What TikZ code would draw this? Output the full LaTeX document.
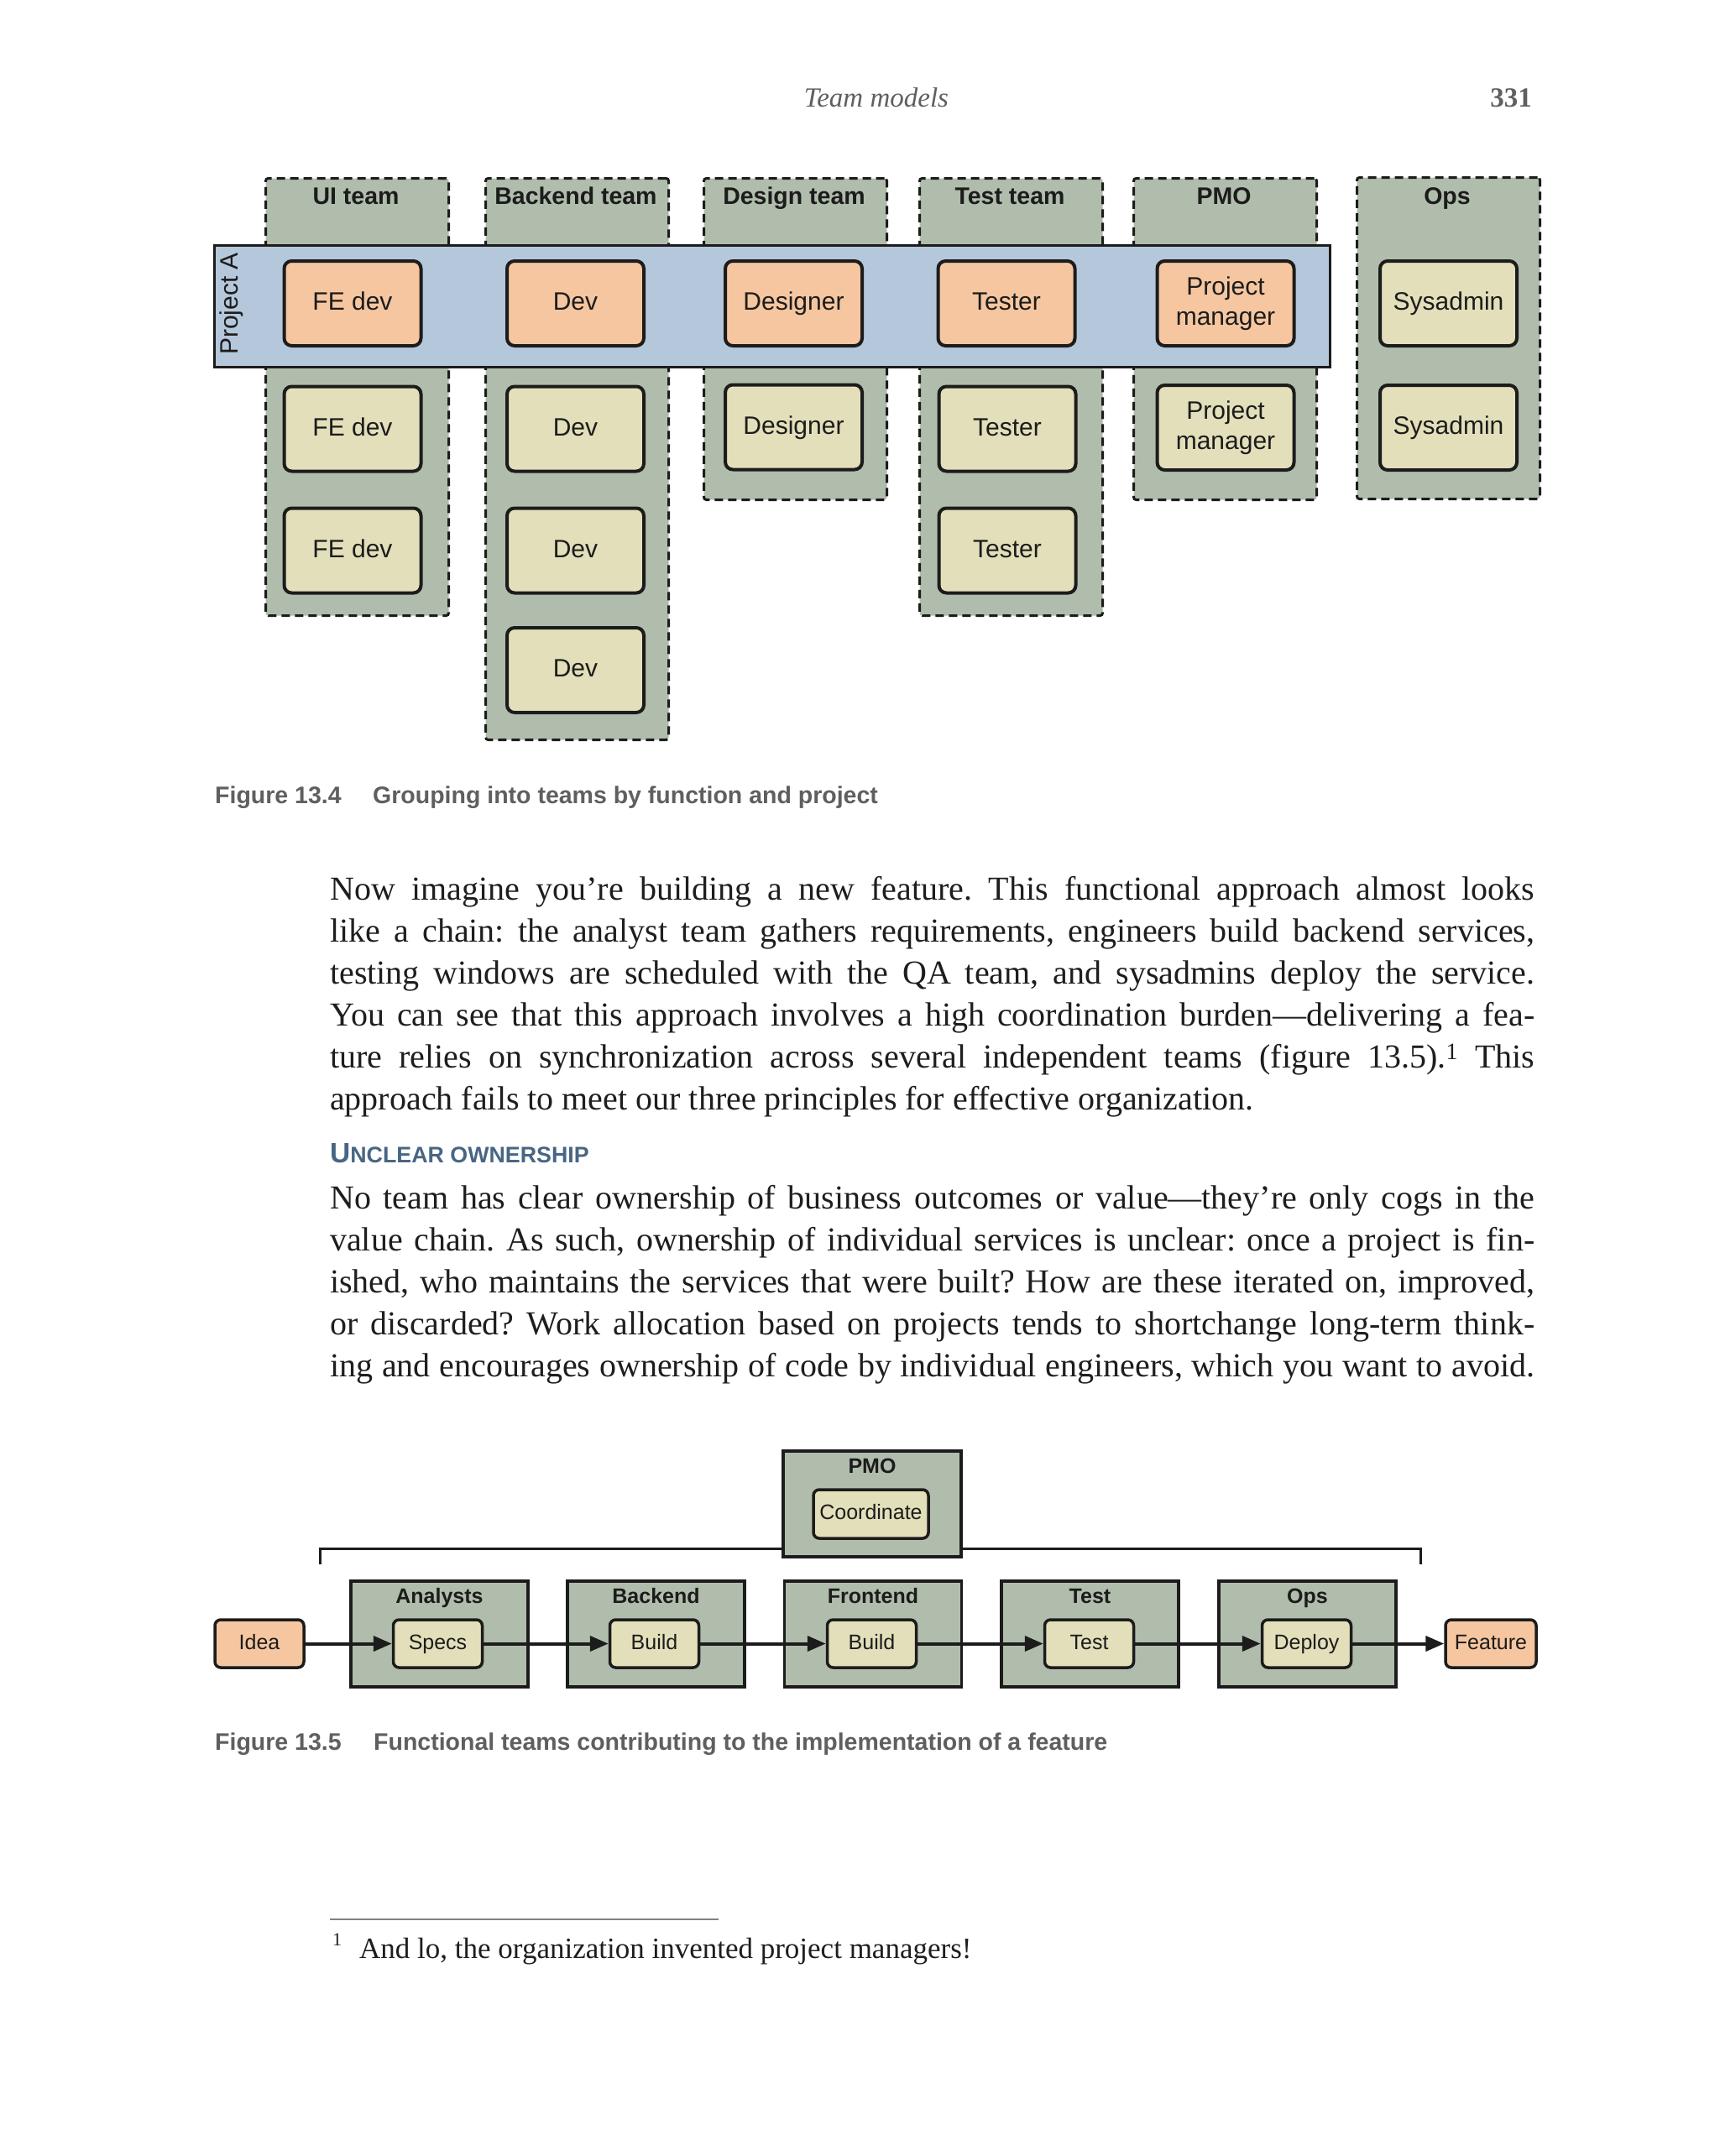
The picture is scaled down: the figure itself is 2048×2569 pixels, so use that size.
\documentclass[tikz,border=0pt]{standalone}
\usepackage{fontspec}
\setmainfont{Liberation Serif}
\newfontfamily\sans{Liberation Sans}
\usetikzlibrary{arrows.meta}
\definecolor{linec}{RGB}{28,28,28}
\definecolor{teamg}{RGB}{177,189,172}
\definecolor{bandb}{RGB}{181,199,219}
\definecolor{orangec}{RGB}{246,198,160}
\definecolor{creamc}{RGB}{227,223,186}
\definecolor{capgray}{RGB}{95,95,95}
\definecolor{headblue}{RGB}{72,102,132}
\definecolor{headgray}{RGB}{95,95,95}
\definecolor{bodyc}{RGB}{30,30,30}
\begin{document}
\frenchspacing
\begin{tikzpicture}[x=1pt,y=-1pt,
  teamcol/.style={draw=linec, fill=teamg, line width=3pt, dash pattern=on 10pt off 6pt, rounded corners=3pt, anchor=north west, inner sep=0pt, minimum width=218pt},
  teamlbl/.style={anchor=base, font=\sans\bfseries\fontsize{28.5}{32}\selectfont, text=linec},
  band/.style={draw=linec, fill=bandb, line width=3pt, anchor=north west, inner sep=0pt},
  boxbase/.style={draw=linec, line width=4pt, rounded corners=9pt, minimum width=163pt, minimum height=101pt, inner sep=0pt, font=\sans\fontsize{30}{36}\selectfont, align=center, text=linec},
  box/.style={boxbase, text height=22pt, text depth=6pt},
  team5/.style={draw=linec, fill=teamg, line width=3.5pt, minimum width=211pt, minimum height=126pt, inner sep=0pt},
  lbl5/.style={anchor=base, font=\sans\bfseries\fontsize{25}{28}\selectfont, text=linec},
  ibox/.style={draw=linec, line width=3.5pt, rounded corners=7pt, minimum height=57pt, minimum width=106pt, inner sep=0pt, font=\sans\fontsize{25}{28}\selectfont, text height=18pt, text depth=5pt, text=linec},
  arr/.style={draw=linec, line width=4pt, -{Triangle[length=22pt,width=18pt]}},
  body/.style={anchor=base west, inner sep=0pt, font=\fontsize{40}{50}\selectfont, text=bodyc},
  captxt/.style={anchor=base west, inner sep=0pt, font=\sans\bfseries\fontsize{28.5}{32}\selectfont, text=capgray}
]
\fill[white] (0,0) rectangle (2048,2569);
\useasboundingbox (0,0) rectangle (2048,2569);

% header
\node[anchor=base, inner sep=0pt, font=\itshape\fontsize{33}{36}\selectfont, text=headgray] (hdr) at (1044,128) {Team models};
\node[anchor=base east, inner sep=0pt, font=\bfseries\fontsize{33}{36}\selectfont, text=headgray] (pg) at (1825,128) {331};

% ===== Figure 13.4 =====
\node[teamcol, minimum height=521pt] (ui) at (315,211) {};
\node[teamcol, minimum height=669pt] (be) at (577,211) {};
\node[teamcol, minimum height=383pt] (de) at (837,211) {};
\node[teamcol, minimum height=521pt] (te) at (1094,211) {};
\node[teamcol, minimum height=383pt] (pm) at (1349,211) {};
\node[teamcol, minimum height=383pt] (op) at (1615,210) {};

\node[teamlbl] (uil) at (424,243) {UI team};
\node[teamlbl] (bel) at (686,243) {Backend team};
\node[teamlbl] (del) at (946,243) {Design team};
\node[teamlbl] (tel) at (1203,243) {Test team};
\node[teamlbl] (pml) at (1458,243) {PMO};
\node[teamlbl] (opl) at (1724,243) {Ops};

\node[band, minimum width=1329pt, minimum height=145pt] (proj) at (254,291) {};
\node[inner sep=0pt, rotate=90, font=\sans\fontsize{30}{34}\selectfont, text=linec] (projl) at (276,362) {Project A};

% row 1 (project A)
\node[box, fill=orangec] (r1a) at (420,361.5) {FE dev};
\node[box, fill=orangec] (r1b) at (685.5,361.5) {Dev};
\node[box, fill=orangec] (r1c) at (945.5,361.5) {Designer};
\node[box, fill=orangec] (r1d) at (1199,361.5) {Tester};
\node[boxbase, fill=orangec] (r1e) at (1460,361.5) {Project\\manager};
\node[box, fill=creamc] (r1f) at (1725.5,361.5) {Sysadmin};
% row 2
\node[box, fill=creamc] (r2a) at (420,511) {FE dev};
\node[box, fill=creamc] (r2b) at (685.5,511) {Dev};
\node[box, fill=creamc] (r2c) at (945.5,509) {Designer};
\node[box, fill=creamc] (r2d) at (1200,511) {Tester};
\node[boxbase, fill=creamc] (r2e) at (1460,509.5) {Project\\manager};
\node[box, fill=creamc] (r2f) at (1725.5,509.5) {Sysadmin};
% row 3
\node[box, fill=creamc] (r3a) at (420,656) {FE dev};
\node[box, fill=creamc] (r3b) at (685.5,656) {Dev};
\node[box, fill=creamc] (r3d) at (1200,656) {Tester};
% row 4
\node[box, fill=creamc] (r4b) at (685.5,798.5) {Dev};

% caption 13.4
\node[captxt] (c4n) at (256,957) {Figure 13.4};
\node[captxt] (c4t) at (444,957) {Grouping into teams by function and project};

% ===== body text =====
\node[body] (p1a) at (393,1072) {\makebox[1435pt][s]{Now imagine you’re building a new feature. This functional approach almost looks}};
\node[body] (p1b) at (393,1122) {\makebox[1435pt][s]{like a chain: the analyst team gathers requirements, engineers build backend services,}};
\node[body] (p1c) at (393,1172) {\makebox[1435pt][s]{testing windows are scheduled with the QA team, and sysadmins deploy the service.}};
\node[body] (p1d) at (393,1222) {\makebox[1435pt][s]{You can see that this approach involves a high coordination burden—delivering a fea-}};
\node[body] (p1e) at (393,1272) {\makebox[1435pt][s]{ture relies on synchronization across several independent teams (figure 13.5).\textsuperscript{1} This}};
\node[body] (p1f) at (393,1322) {approach fails to meet our three principles for effective organization.};

\node[anchor=base west, inner sep=0pt, text=headblue, font=\sans\bfseries] (hd) at (393,1385) {\fontsize{33.5}{34}\selectfont U\fontsize{26.8}{34}\selectfont NCLEAR OWNERSHIP};

\node[body] (p2a) at (393,1440) {\makebox[1435pt][s]{No team has clear ownership of business outcomes or value—they’re only cogs in the}};
\node[body] (p2b) at (393,1490) {\makebox[1435pt][s]{value chain. As such, ownership of individual services is unclear: once a project is fin-}};
\node[body] (p2c) at (393,1540) {\makebox[1435pt][s]{ished, who maintains the services that were built? How are these iterated on, improved,}};
\node[body] (p2d) at (393,1590) {\makebox[1435pt][s]{or discarded? Work allocation based on projects tends to shortchange long-term think-}};
\node[body] (p2e) at (393,1640) {\makebox[1435pt][s]{ing and encourages ownership of code by individual engineers, which you want to avoid.}};

% ===== Figure 13.5 =====
\coordinate (bl1) at (381,1864);
\coordinate (bl2) at (381,1845);
\coordinate (br2) at (1692,1845);
\coordinate (br1) at (1692,1864);
\draw[linec, line width=3pt] (bl1) -- (bl2) -- (br2) -- (br1);

\node[team5, minimum width=212pt] (pmo) at (1039,1792) {};
\node[lbl5] (pmol) at (1039,1755) {PMO};
\node[ibox, fill=creamc, minimum width=137pt, minimum height=58pt] (coord) at (1037.5,1804) {Coordinate};

\node[team5] (ta) at (523.5,1947) {};
\node[team5] (tb) at (781.5,1947) {};
\node[team5] (tf) at (1040,1947) {};
\node[team5] (tt) at (1298.5,1947) {};
\node[team5] (to) at (1557.5,1947) {};
\node[lbl5] (tal) at (523.5,1910) {Analysts};
\node[lbl5] (tbl) at (781.5,1910) {Backend};
\node[lbl5] (tfl) at (1040,1910) {Frontend};
\node[lbl5] (ttl) at (1298.5,1910) {Test};
\node[lbl5] (tol) at (1557.5,1910) {Ops};

\node[ibox, fill=orangec] (idea) at (309,1958.5) {Idea};
\node[ibox, fill=creamc] (specs) at (521.5,1958.5) {Specs};
\node[ibox, fill=creamc] (build1) at (779.5,1958.5) {Build};
\node[ibox, fill=creamc] (build2) at (1038.5,1958.5) {Build};
\node[ibox, fill=creamc] (test) at (1297.5,1958.5) {Test};
\node[ibox, fill=creamc] (deploy) at (1556.5,1958.5) {Deploy};
\node[ibox, fill=orangec, minimum width=108pt] (feat) at (1776,1958.5) {Feature};

\draw[arr] (idea) -- (specs);
\draw[arr] (specs) -- (build1);
\draw[arr] (build1) -- (build2);
\draw[arr] (build2) -- (test);
\draw[arr] (test) -- (deploy);
\draw[arr] (deploy) -- (feat);

% caption 13.5
\node[captxt] (c5n) at (256,2085) {Figure 13.5};
\node[captxt] (c5t) at (445,2085) {Functional teams contributing to the implementation of a feature};

% footnote
\coordinate (fr1) at (393,2287);
\coordinate (fr2) at (856,2287);
\draw[gray, line width=2pt] (fr1) -- (fr2);
\node[anchor=base west, inner sep=0pt, font=\fontsize{22}{24}\selectfont, text=bodyc] (fnm) at (396,2318) {1};
\node[anchor=base west, inner sep=0pt, font=\fontsize{35}{40}\selectfont, text=bodyc] (fnt) at (428,2333) {And lo, the organization invented project managers!};
\end{tikzpicture}
\end{document}
